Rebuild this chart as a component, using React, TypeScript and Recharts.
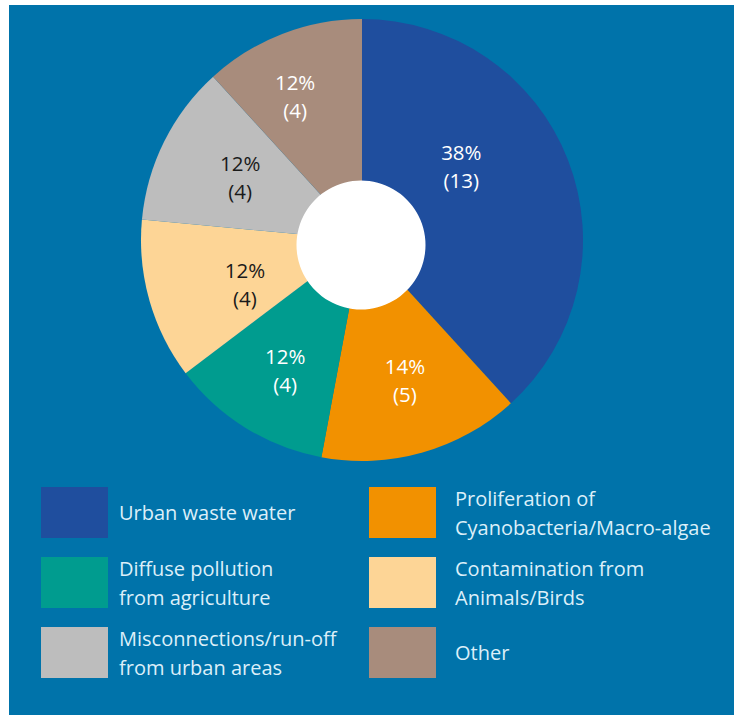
import { PieChart, Pie, Cell, Legend } from "recharts"

const categories = [
    "Urban waste water",
    "Proliferation of Cyanobacteria/Macro-algae",
    "Diffuse pollution from agriculture",
    "Contamination from Animals/Birds",
    "Misconnections/run-off from urban areas",
    "Other",
]
const counts = [13, 5, 4, 4, 4, 4]
const percents = ["38%", "14%", "12%", "12%", "12%", "12%"]
// legend text broken onto lines as in the source
const legendLines = [
    ["Urban waste water"],
    ["Proliferation of", "Cyanobacteria/Macro-algae"],
    ["Diffuse pollution", "from agriculture"],
    ["Contamination from", "Animals/Birds"],
    ["Misconnections/run-off", "from urban areas"],
    ["Other"],
]

const COLORS = ["#1F4E9E", "#F29100", "#009C8F", "#FDD596", "#BDBDBD", "#A88C7C"]
const LABEL_COLORS = ["#FFFFFF", "#FFFFFF", "#FFFFFF", "#1A1A1A", "#1A1A1A", "#FFFFFF"]
// small nudges of each label off the slice middle (degrees, radius)
const LABEL_SHIFT = [
    { da: 15.6, r: 124 },
    { da: 1.2, r: 146 },
    { da: 1.2, r: 151 },
    { da: 4.7, r: 125 },
    { da: -0.8, r: 137 },
    { da: 3.7, r: 159 },
]

const BG = "#0073AA"
const FONT = "'Open Sans', 'Noto Sans', sans-serif"
const RAD = Math.PI / 180

const data = categories.map((name, i) => ({
    name,
    count: counts[i],
    pct: percents[i],
}))

function renderLabel(props: any) {
    const { cx, cy, midAngle, index } = props
    const s = LABEL_SHIFT[index]
    const a = (midAngle + s.da) * RAD
    const x = cx + s.r * Math.cos(a)
    const y = cy - s.r * Math.sin(a)
    return (
        <text
            x={x}
            y={y}
            fill={LABEL_COLORS[index]}
            textAnchor="middle"
            fontFamily={FONT}
            fontSize={20.5}
        >
            <tspan x={x} dy={-6}>{data[index].pct}</tspan>
            <tspan x={x} dy={28}>({data[index].count})</tspan>
        </text>
    )
}

function LegendGrid() {
    return (
        <div
            style={{
                display: "grid",
                gridTemplateColumns: "328px 360px",
                rowGap: 19,
                paddingLeft: 32,
                fontFamily: FONT,
                fontSize: 20,
                color: "#DCEFF9",
                whiteSpace: "nowrap",
            }}
        >
            {categories.map((c, i) => (
                <div key={c} style={{ display: "flex", alignItems: "center", height: 51 }}>
                    <div style={{ width: 67, height: 51, background: COLORS[i], flexShrink: 0 }} />
                    <div style={{ marginLeft: i % 2 === 0 ? 11 : 19, lineHeight: "29px" }}>
                        {legendLines[i].map((l) => (
                            <div key={l}>{l}</div>
                        ))}
                    </div>
                </div>
            ))}
        </div>
    )
}

export default function App() {
    return (
        <div
            style={{
                position: "absolute",
                left: 9,
                top: 5,
                width: 725,
                height: 710,
                background: BG,
            }}
        >
            <PieChart width={725} height={710} margin={{ top: 0, right: 0, bottom: 0, left: 0 }}>
                <Pie
                    data={data}
                    dataKey="count"
                    nameKey="name"
                    cx={353}
                    cy={235}
                    outerRadius={221}
                    innerRadius={0}
                    startAngle={90}
                    endAngle={-270}
                    stroke="none"
                    label={renderLabel}
                    labelLine={false}
                    isAnimationActive={false}
                >
                    {data.map((_, i) => (
                        <Cell key={`cell-${i}`} fill={COLORS[i]} />
                    ))}
                </Pie>
                <Pie
                    data={[{ v: 1 }]}
                    dataKey="v"
                    cx={352}
                    cy={240}
                    outerRadius={64.5}
                    fill="#FFFFFF"
                    stroke="none"
                    isAnimationActive={false}
                />
                <Legend
                    content={() => <LegendGrid />}
                    wrapperStyle={{ top: 482, left: 0, width: 725 }}
                />
            </PieChart>
        </div>
    )
}
